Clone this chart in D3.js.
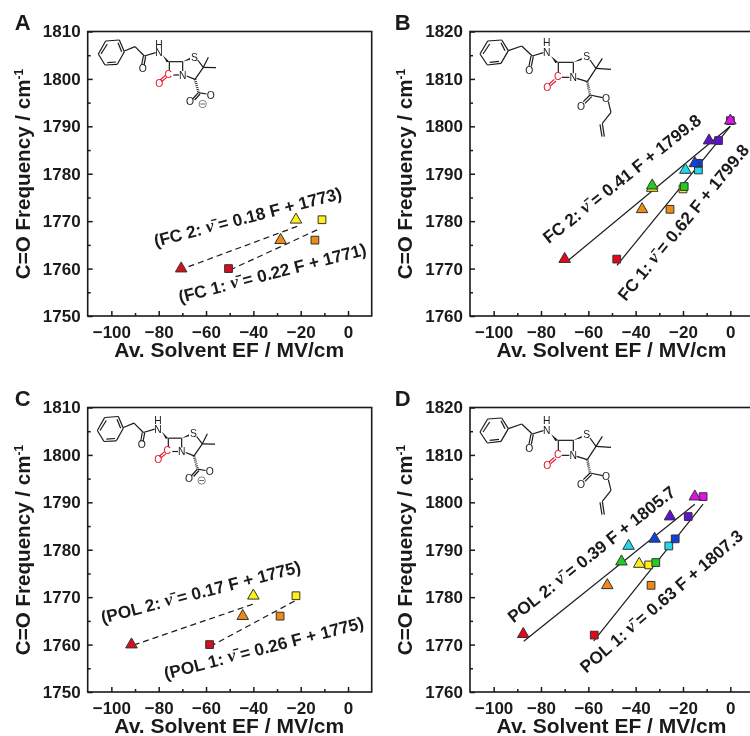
<!DOCTYPE html>
<html lang="en">
<head>
	<meta charset="UTF-8">
	<title>C=O frequency vs solvent electric field</title>
	<style>
		*{margin:0;padding:0;}
		body {background:#fff;overflow:hidden;}
		svg {display:block;filter:blur(0.35px);}
		text {font-family:"Liberation Sans",Arial,sans-serif;fill:#1a1a1a;}
	</style>
</head>
<body>
	<div id="container"></div>
	<script src="https://cdn.jsdelivr.net/npm/d3@7"></script>
	<script>
		// colours of the solvents, same order for every series of 8 points
		var colors8 = ['#e3061c','#f08a12','#fff014','#22cc22','#20d8e8','#1040e0','#6010d0','#e010e8']
		// panels A and C only have three solvents
		var colors3 = ['#d40f1f','#f08a12','#fff014']

		var xTicks = [-100,-80,-60,-40,-20,0]
		var xMinor = [-90,-70,-50,-30,-10]
		var yTicksLow = [1750,1760,1770,1780,1790,1800,1810]
		var yMinorLow = [1755,1765,1775,1785,1795,1805]
		var yTicksHigh = [1760,1770,1780,1790,1800,1810,1820]
		var yMinorHigh = [1765,1775,1785,1795,1805,1815]

		var aTriX = [-70.5,-28.5,-22]
		var aTriY = [1760,1766,1770.3]
		var aSqX = [-50.5,-14,-11]
		var aSqY = [1760,1766,1770.3]
		var aLine2X = [-67.4,-21.5], aLine2Y = [1760.4,1768.9]
		var aLine1X = [-49.9,-12], aLine1Y = [1759.7,1768.4]

		var bTriX = [-70,-37.3,-33,-33,-19,-15,-9,0]
		var bTriY = [1772,1782.5,1787,1787.5,1790.8,1792.2,1797,1801.2]
		var bSqX = [-48,-25.5,-20,-19.5,-13.5,-13.5,-5,0]
		var bSqY = [1772,1782.5,1786.8,1787.3,1790.8,1792.2,1797,1801.2]
		var bLine2X = [-68.3,0], bLine2Y = [1771.8,1800]
		var bLine1X = [-47.9,0], bLine1Y = [1770.7,1800]

		var cTriX = [-91.5,-44.5,-40]
		var cTriY = [1760,1766,1770.3]
		var cSqX = [-58.5,-28.7,-22]
		var cSqY = [1760,1766,1770.3]
		var cLine2X = [-90.6,-39.7], cLine2Y = [1759.9,1768.6]
		var cLine1X = [-58.3,-22.5], cLine1Y = [1759.6,1769.2]

		var dTriX = [-87.5,-52,-38.5,-46,-43,-32,-25.5,-15]
		var dTriY = [1772.2,1782.5,1787,1787.5,1790.8,1792.3,1797,1801.2]
		var dSqX = [-57.5,-33.5,-34.5,-31.5,-26,-23.3,-17.8,-11.5]
		var dSqY = [1772,1782.5,1786.8,1787.3,1790.8,1792.3,1797,1801.2]
		var dLine2X = [-87.3,-15], dLine2Y = [1770.7,1799.6]
		var dLine1X = [-57.7,-11.5], dLine1Y = [1770.8,1799.6]

		var svg = d3.select('#container').append('svg').attr('width', 750).attr('height', 736)

		function makeArr(xs, ys, cols) {
			return xs.map(function (x, i) {return {x: x, y: ys[i], c: cols[i]}})
		}

		function drawPanel(p) {
			var x = d3.scaleLinear().domain([-110, 10]).range([p.left, p.left + 284])
			var y = d3.scaleLinear().domain(p.yDomain).range([p.bottom, p.bottom - 284.5])

			svg.append('rect')
				.attr('x', p.left).attr('y', p.bottom - 284.5)
				.attr('width', 284).attr('height', 284.5)
				.attr('fill', 'none').attr('stroke', '#1a1a1a').attr('stroke-width', 1.6)

			var gx = svg.append('g').attr('transform', `translate(0,${p.bottom})`)
				.call(d3.axisBottom(x).tickValues(xTicks).tickSize(-5).tickPadding(10).tickFormat(d3.format('d')))
			var gxm = svg.append('g').attr('transform', `translate(0,${p.bottom})`)
				.call(d3.axisBottom(x).tickValues(xMinor).tickSize(-3).tickFormat(''))
			var gy = svg.append('g').attr('transform', `translate(${p.left},0)`)
				.call(d3.axisLeft(y).tickValues(p.yTicks).tickSize(-5).tickPadding(7).tickFormat(d3.format('d')))
			var gym = svg.append('g').attr('transform', `translate(${p.left},0)`)
				.call(d3.axisLeft(y).tickValues(p.yMinor).tickSize(-3).tickFormat(''))

			;[gx, gxm, gy, gym].forEach(function (g) {
				g.select('.domain').remove()
				g.selectAll('line').attr('stroke', '#1a1a1a').attr('stroke-width', 1.5)
				g.selectAll('text').attr('font-size', 17).attr('font-weight', 'bold')
					.attr('font-family', '"Liberation Sans",Arial,sans-serif').attr('fill', '#1a1a1a')
			})

			svg.append('text')
				.attr('x', p.left + 141.5).attr('y', p.bottom + 41)
				.attr('text-anchor', 'middle').attr('font-size', 21).attr('font-weight', 'bold')
				.text('Av. Solvent EF / MV/cm')

			var yl = svg.append('text')
				.attr('transform', `translate(${p.left - 58},${p.bottom - 142}) rotate(-90)`)
				.attr('text-anchor', 'middle').attr('font-size', 20.6).attr('font-weight', 'bold')
			yl.append('tspan').text('C=O Frequency / cm')
			yl.append('tspan').attr('dy', -7).attr('font-size', 12).text('-1')

			svg.append('text')
				.attr('x', p.letterX).attr('y', p.bottom - 286)
				.attr('text-anchor', 'middle').attr('font-size', 22).attr('font-weight', 'bold')
				.text(p.letter)

			var line = d3.line().x(function (d) {return x(d.x)}).y(function (d) {return y(d.y)})
			;[p.line1, p.line2].forEach(function (l) {
				svg.append('path')
					.datum(l)
					.attr('d', line)
					.attr('fill', 'none').attr('stroke', '#1a1a1a').attr('stroke-width', 1.2)
					.attr('stroke-dasharray', p.dashed ? '6,4' : null)
			})

			svg.append('g').selectAll('path').data(p.squares).enter().append('path')
				.attr('d', d3.symbol().type(d3.symbolSquare).size(60))
				.attr('transform', function (d) {return `translate(${x(d.x)},${y(d.y)})`})
				.attr('fill', function (d) {return d.c})
				.attr('stroke', '#333').attr('stroke-width', 1)
			svg.append('g').selectAll('path').data(p.triangles).enter().append('path')
				.attr('d', d3.symbol().type(d3.symbolTriangle).size(58))
				.attr('transform', function (d) {return `translate(${x(d.x)},${y(d.y)})`})
				.attr('fill', function (d) {return d.c})
				.attr('stroke', '#333').attr('stroke-width', 1)

			p.notes.forEach(function (n) {
				var t = svg.append('text')
					.attr('transform', `translate(${n.cx},${n.cy}) rotate(${n.angle})`)
					.attr('text-anchor', 'middle').attr('dominant-baseline', 'middle')
					.attr('font-size', 17.2).attr('font-weight', 'bold')
				t.append('tspan').text(n.before)
				t.append('tspan').attr('font-family', '"Liberation Serif",serif').attr('font-style', 'italic')
					.attr('font-size', 18).text('\u03BD\u0304')
				t.append('tspan').text(n.after)
			})

			drawMolecule(p.molX, p.molY, p.ester)
		}

		// structure drawing, traced at 3x so numbers are 3 times the px
		function drawMolecule(ox, oy, ester) {
			var g = svg.append('g').attr('transform', `translate(${ox},${oy}) scale(${1/3})`)
			var black = '#1a1a1a', red = '#e8102a'
			var bonds, wedges, hash, redBonds, atoms
			if (ester) {
				bonds = [
					[15,72,38,33],[38,33,80,30],[80,30,100,62],[100,62,78,100],[78,100,37,105],[37,105,15,72],
					[24,72,44,42],[44,97,72,94],[78,38,90,62],
					[100,62,140,48],[140,48,172,78],[168,78,162,108],[175,79,169,109],[172,78,205,68],
					[250,97,295,97],[295,97,295,130],[250,97,250,128],[260,142,283,142],
					[345,90,363,115],[363,115,337,155],[337,155,305,145],[363,115,382,85],[363,115,408,118],
					[345,195,325,215],[350,200,330,220],[345,195,383,203],
					[400,215,408,247],[408,247,382,280],[382,280,388,320],[375,283,381,320]
				]
				wedges = [[228,78,250,97,241,99],[295,97,320,84,320,90]]
				hash = [337,155,345,195]
				redBonds = [[238,148,222,162],[243,153,227,167]]
				atoms = [['H',215,38,black],['N',215,68,black],['O',163,120,black],['N',295,142,black],['S',335,80,black],
					['O',318,230,black],['O',393,205,black],['C',248,140,red],['O',217,172,red]]
			} else {
				bonds = [
					[25,72,47,33],[47,33,88,30],[88,30,103,65],[103,65,82,103],[82,103,45,105],[45,105,25,72],
					[33,72,52,42],[52,98,78,96],[84,38,95,65],
					[103,63,135,50],[135,50,163,78],[160,78,155,105],[167,79,162,106],[163,78,197,68],
					[238,95,278,95],[278,95,278,123],[238,95,238,122],[250,135,267,135],
					[323,90,340,112],[340,112,315,148],[315,148,290,138],[340,112,355,82],[340,112,378,113],
					[325,188,350,192],[325,188,308,207],[330,192,314,210]
				]
				wedges = [[218,75,238,95,230,97],[278,95,300,83,300,89]]
				hash = [315,148,325,185]
				redBonds = [[225,137,210,150],[230,142,215,155]]
				atoms = [['H',207,42,black],['N',207,68,black],['O',158,115,black],['N',278,135,black],['S',313,82,black],
					['O',362,195,black],['O',300,215,black],['C',235,133,red],['O',208,160,red]]
				g.append('circle').attr('cx', 338).attr('cy', 222).attr('r', 11)
					.attr('fill', 'none').attr('stroke', '#666').attr('stroke-width', 2.5)
				g.append('line').attr('x1', 331).attr('y1', 222).attr('x2', 345).attr('y2', 222)
					.attr('stroke', '#666').attr('stroke-width', 3)
			}
			g.selectAll('line.b').data(bonds).enter().append('line').attr('class', 'b')
				.attr('x1', function (d) {return d[0]}).attr('y1', function (d) {return d[1]})
				.attr('x2', function (d) {return d[2]}).attr('y2', function (d) {return d[3]})
				.attr('stroke', black).attr('stroke-width', 3.6)
			g.selectAll('line.r').data(redBonds).enter().append('line').attr('class', 'r')
				.attr('x1', function (d) {return d[0]}).attr('y1', function (d) {return d[1]})
				.attr('x2', function (d) {return d[2]}).attr('y2', function (d) {return d[3]})
				.attr('stroke', red).attr('stroke-width', 3.6)
			g.selectAll('path.w').data(wedges).enter().append('path').attr('class', 'w')
				.attr('d', function (d) {return `M${d[0]} ${d[1]}L${d[2]} ${d[3]}L${d[4]} ${d[5]}Z`})
				.attr('fill', black)
			g.append('line').attr('x1', hash[0]).attr('y1', hash[1]).attr('x2', hash[2]).attr('y2', hash[3])
				.attr('stroke', black).attr('stroke-width', 8).attr('stroke-dasharray', '2.5,3.5')
			g.selectAll('text').data(atoms).enter().append('text')
				.attr('x', function (d) {return d[1]}).attr('y', function (d) {return d[2]})
				.attr('text-anchor', 'middle').attr('dominant-baseline', 'central')
				.attr('font-size', 31)
				.style('fill', function (d) {return d[3]})
				.text(function (d) {return d[0]})
		}

		drawPanel({
			letter: 'A', letterX: 22.7, left: 87.7, bottom: 316, yDomain: [1750,1810], yTicks: yTicksLow, yMinor: yMinorLow, dashed: true,
			triangles: makeArr(aTriX, aTriY, colors3), squares: makeArr(aSqX, aSqY, colors3),
			line2: makeArr(aLine2X, aLine2Y, []), line1: makeArr(aLine1X, aLine1Y, []),
			molX: 90, molY: 30, ester: false,
			notes: [
				{cx: 248, cy: 218, angle: -14.5, before: '(FC 2: ', after: ' = 0.18 F + 1773)'},
				{cx: 272.5, cy: 274, angle: -14.5, before: '(FC 1: ', after: ' = 0.22 F + 1771)'}
			]
		})
		drawPanel({
			letter: 'B', letterX: 402.7, left: 470, bottom: 316, yDomain: [1760,1820], yTicks: yTicksHigh, yMinor: yMinorHigh, dashed: false,
			triangles: makeArr(bTriX, bTriY, colors8), squares: makeArr(bSqX, bSqY, colors8),
			line2: makeArr(bLine2X, bLine2Y, []), line1: makeArr(bLine1X, bLine1Y, []),
			molX: 475, molY: 30, ester: true,
			notes: [
				{cx: 622.5, cy: 179.5, angle: -38.4, before: 'FC 2: ', after: ' = 0.41 F + 1799.8'},
				{cx: 684, cy: 223, angle: -50.7, before: 'FC 1: ', after: ' = 0.62 F + 1799.8'}
			]
		})
		drawPanel({
			letter: 'C', letterX: 22.7, left: 87.7, bottom: 692, yDomain: [1750,1810], yTicks: yTicksLow, yMinor: yMinorLow, dashed: true,
			triangles: makeArr(cTriX, cTriY, colors3), squares: makeArr(cSqX, cSqY, colors3),
			line2: makeArr(cLine2X, cLine2Y, []), line1: makeArr(cLine1X, cLine1Y, []),
			molX: 89, molY: 406.5, ester: false,
			notes: [
				{cx: 201, cy: 593, angle: -14.5, before: '(POL 2: ', after: ' = 0.17 F + 1775)'},
				{cx: 264, cy: 649, angle: -14.5, before: '(POL 1: ', after: ' = 0.26 F + 1775)'}
			]
		})
		drawPanel({
			letter: 'D', letterX: 402.7, left: 470, bottom: 692, yDomain: [1760,1820], yTicks: yTicksHigh, yMinor: yMinorHigh, dashed: false,
			triangles: makeArr(dTriX, dTriY, colors8), squares: makeArr(dSqX, dSqY, colors8),
			line2: makeArr(dLine2X, dLine2Y, []), line1: makeArr(dLine1X, dLine1Y, []),
			molX: 475, molY: 408, ester: true,
			notes: [
				{cx: 592, cy: 555, angle: -38.4, before: 'POL 2: ', after: ' = 0.39 F + 1805.7'},
				{cx: 662, cy: 602, angle: -40.7, before: 'POL 1: ', after: ' = 0.63 F + 1807.3'}
			]
		})
	</script>
</body>
</html>
